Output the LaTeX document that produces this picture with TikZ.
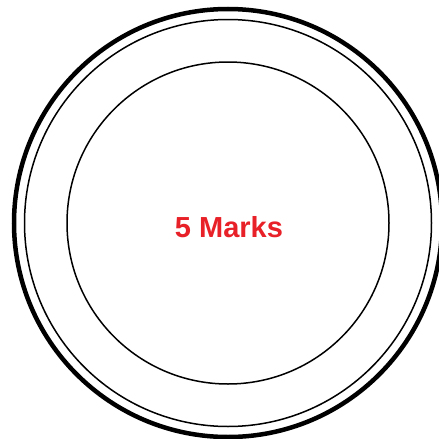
\documentclass[tikz,border=0pt]{standalone}
\usepackage{fontspec}
\setmainfont{Liberation Sans}
\definecolor{markred}{RGB}{232,32,40}
\begin{document}
\begin{tikzpicture}[x=1pt,y=-1pt,
  ring/.style={draw=black,line width=1.5pt},
  thickring/.style={draw=black,line width=4.5pt}]
\useasboundingbox (0,0) rectangle (439,439);
\clip (0,0) rectangle (439,439);
\coordinate (c) at (228,223);
\draw[thickring] (c) circle[radius=214];
\draw[ring] (c) circle[radius=203.5];
\draw[ring] (c) circle[radius=161];
\node[text=markred,font=\fontsize{29}{34}\selectfont\bfseries,inner sep=0pt] (lbl) at (229,227) {5 Marks};
\end{tikzpicture}
\end{document}
